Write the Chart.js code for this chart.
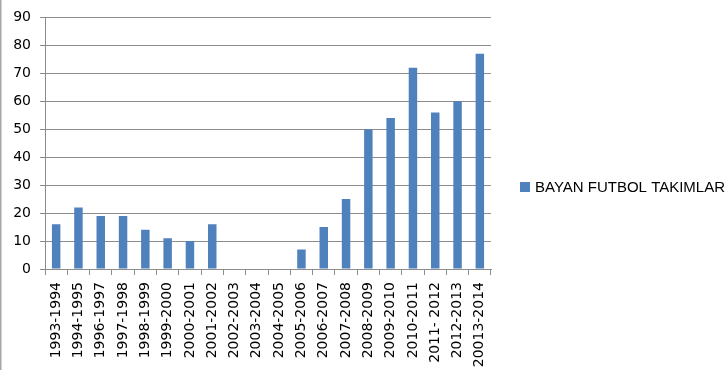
<!DOCTYPE html>
<html>
<head>
<meta charset="utf-8">
<script src="https://cdn.jsdelivr.net/npm/chart.js@4/dist/chart.umd.min.js"></script>
<style>
  html, body { margin: 0; padding: 0; background: #fff; overflow: hidden; }
  #wrap { width: 726px; height: 370px; }
</style>
</head>
<body>
<div id="wrap"><canvas id="c" width="726" height="370"></canvas></div>
<script>
// Seasons on the category axis
const seasons = [
  '1993-1994', '1994-1995', '1996-1997', '1997-1998', '1998-1999',
  '1999-2000', '2000-2001', '2001-2002', '2002-2003', '2003-2004',
  '2004-2005', '2005-2006', '2006-2007', '2007-2008', '2008-2009',
  '2009-2010', '2010-2011', '2011- 2012', '2012-2013', '20013-2014'
];

// Number of women's football teams per season
const teamCounts = [16, 22, 19, 19, 14, 11, 10, 16, 0, 0, 0, 7, 15, 25, 50, 54, 72, 56, 60, 77];

const seriesName = 'BAYAN FUTBOL TAKIMLARI';
const yTicks = [0, 10, 20, 30, 40, 50, 60, 70, 80, 90];

const barColor = '#4f81bd';
const gridColor = '#8c8c8c';

// Frame line on the left edge and a legend placed to the right of the plot
const framePlugin = {
  id: 'frameAndLegend',
  beforeDraw(chart) {
    const ctx = chart.ctx;
    ctx.save();
    ctx.fillStyle = '#ffffff';
    ctx.fillRect(0, 0, chart.width, chart.height);
    ctx.strokeStyle = '#a6a6a6';
    ctx.lineWidth = 1.5;
    ctx.beginPath();
    ctx.moveTo(0.75, 0);
    ctx.lineTo(0.75, chart.height);
    ctx.stroke();
    ctx.restore();
  },
  afterDraw(chart) {
    const ctx = chart.ctx;
    const ds = chart.data.datasets[0];
    const y = 187;
    const textX = 535;
    ctx.save();
    ctx.fillStyle = ds.backgroundColor;
    ctx.fillRect(520, y - 5, 10, 10);
    // size the legend text so the series name runs past the right edge of the canvas
    ctx.font = '15px "Liberation Sans", Arial, sans-serif';
    const w = ctx.measureText(ds.label.slice(0, -1)).width;
    const size = 15 * 190 / w;
    ctx.font = size.toFixed(2) + 'px "Liberation Sans", Arial, sans-serif';
    ctx.fillStyle = '#000';
    ctx.textBaseline = 'middle';
    ctx.fillText(ds.label, textX, y + 1);
    ctx.restore();
  }
};

new Chart(document.getElementById('c'), {
  type: 'bar',
  data: {
    labels: seasons,
    datasets: [{
      label: seriesName,
      data: teamCounts,
      backgroundColor: barColor,
      borderWidth: 0,
      categoryPercentage: 1.0,
      barPercentage: 0.38
    }]
  },
  options: {
    responsive: false,
    animation: false,
    devicePixelRatio: 1,
    layout: { padding: { top: 14, right: 235, bottom: 0, left: 0 } },
    plugins: {
      legend: { display: false },
      tooltip: { enabled: false }
    },
    scales: {
      x: {
        offset: true,
        grid: {
          offset: true,
          drawOnChartArea: false,
          drawTicks: true,
          tickLength: 6,
          color: gridColor
        },
        border: { display: true, color: gridColor, width: 1 },
        ticks: {
          autoSkip: false,
          maxRotation: 90,
          minRotation: 90,
          padding: 7,
          color: '#000',
          font: { family: '"DejaVu Sans", sans-serif', size: 14 }
        },
        afterFit(axis) { axis.height = 101; }
      },
      y: {
        min: 0,
        max: 90,
        afterBuildTicks(axis) { axis.ticks = yTicks.map(v => ({ value: v })); },
        grid: {
          color: gridColor,
          drawTicks: true,
          tickLength: 5
        },
        border: { display: true, color: gridColor, width: 1 },
        ticks: {
          padding: 9,
          color: '#000',
          font: { family: '"DejaVu Sans", sans-serif', size: 14 }
        },
        afterFit(axis) { axis.width = 45; }
      }
    }
  },
  plugins: [framePlugin]
});
</script>
</body>
</html>
